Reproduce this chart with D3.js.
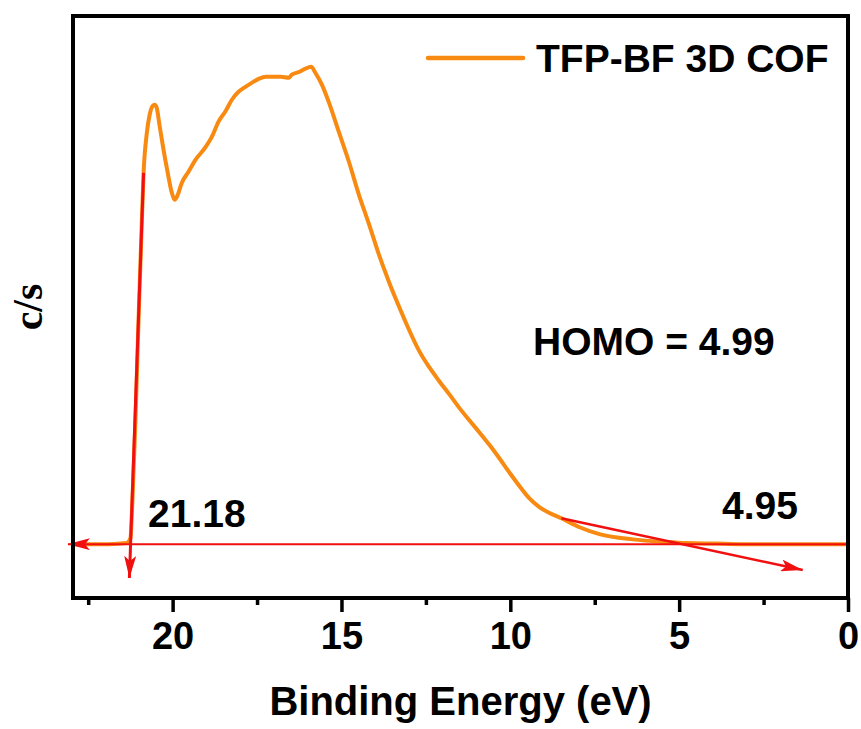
<!DOCTYPE html>
<html>
<head>
<meta charset="UTF-8">
<title>UPS spectrum</title>
<script src="https://cdn.jsdelivr.net/npm/d3@7"></script>
<style>
  body { margin: 0; padding: 0; background: #fff; }
  svg { display: block; }
  text { font-weight: bold; fill: #000; }
  .sans { font-family: "Liberation Sans", Arial, sans-serif; }
  .serif { font-family: "Liberation Serif", "DejaVu Serif", "Times New Roman", serif; }
</style>
</head>
<body>
<div id="chart"></div>
<script>
// binding energy (eV) and intensity (c/s, arbitrary units)
var energy = [22.95, 21.90, 21.36, 21.25, 21.19, 21.10, 21.01, 20.92, 20.86, 20.77, 20.68, 20.59, 20.53,
  20.47, 20.39, 20.27, 20.15, 20.03, 19.94, 19.85, 19.73, 19.53, 19.32, 19.02, 18.84, 18.64, 18.43, 18.25,
  18.04, 17.89, 17.69, 17.45, 17.24, 17.06, 16.80, 16.56, 16.47, 16.26, 16.08, 15.90, 15.76, 15.58, 15.37,
  15.07, 14.78, 14.48, 14.18, 13.89, 13.59, 13.29, 13.00, 12.70, 12.40, 12.11, 11.81, 11.51, 11.22, 10.92,
  10.62, 10.33, 10.03, 9.73, 9.44, 9.14, 8.84, 8.49, 7.95, 7.36, 6.38, 5.37, 4.78, 3.89, 3.20, 1.42, 0];
var counts = [0, 0, 2, 11, 83, 235, 424, 595, 703, 775, 813, 830, 832,
  826, 794, 747, 705, 667, 652, 661, 684, 705, 728, 752, 771, 800, 820, 841,
  857, 864, 872, 881, 885, 885, 885, 883, 889, 894, 900, 904, 891, 870, 836,
  779, 724, 661, 605, 548, 496, 449, 406, 366, 335, 309, 284, 258, 235, 212,
  188, 163, 136, 110, 87, 70, 59, 49, 32, 19, 9, 4, 2, 1, 0, 0, 0];

// tangent / baseline construction lines: [eV, c/s] start -> end (arrow at end)
var cutoffLine = [[20.86, 703], [21.28, -64]];
var edgeLine = [[8.49, 49], [1.34, -49]];
var baseLine = [[0, 0], [23.1, 0]];

var majorTicks = [0, 5, 10, 15, 20];
var minorTicks = [2.5, 7.5, 12.5, 17.5, 22.5];
var seriesName = "TFP-BF 3D COF";
var annotations = [
  {text: "HOMO = 4.99", x: 533, y: 355},
  {text: "21.18", x: 148, y: 527},
  {text: "4.95", x: 722, y: 519}
];

function draw() {
  var data = energy.map((e, i) => [e, counts[i]]);

  var svgWidth = 861, svgHeight = 729;
  // plot frame in pixels
  var pl = 73, pr = 848, pt = 16, pb = 598;
  var orange = "#f88a12", red = "#f01010";

  var svg = d3.select("#chart").append("svg")
    .attr("width", svgWidth).attr("height", svgHeight);

  var x = d3.scaleLinear().domain([22.95, 0]).range([pl, pr]);
  var y = d3.scaleLinear().domain([-102, 1000]).range([pb, pt]);

  var defs = svg.append("defs");
  defs.append("clipPath").attr("id", "plot")
    .append("rect").attr("x", pl).attr("y", pt)
    .attr("width", pr - pl).attr("height", pb - pt);
  defs.append("marker")
    .attr("id", "arrow")
    .attr("markerUnits", "userSpaceOnUse")
    .attr("viewBox", "0 0 22 12")
    .attr("refX", 22).attr("refY", 6)
    .attr("markerWidth", 22).attr("markerHeight", 12)
    .attr("orient", "auto")
    .append("path").attr("d", "M0,0 L22,6 L0,12 L5,6 Z").attr("fill", red);

  // spectrum
  var line = d3.line().x(d => x(d[0])).y(d => y(d[1])).curve(d3.curveMonotoneX);
  svg.append("path")
    .datum(data)
    .attr("clip-path", "url(#plot)")
    .attr("fill", "none")
    .attr("stroke", orange)
    .attr("stroke-width", 4)
    .attr("stroke-linejoin", "round")
    .attr("d", line);

  // construction lines
  var straight = d3.line().x(d => x(d[0])).y(d => y(d[1]));
  [[baseLine, 2], [edgeLine, 2.5], [cutoffLine, 3]].forEach(([pts, w]) => {
    svg.append("path")
      .datum(pts)
      .attr("fill", "none")
      .attr("stroke", red)
      .attr("stroke-width", w)
      .attr("marker-end", "url(#arrow)")
      .attr("d", straight);
  });

  // x axis ticks
  var axisG = svg.append("g").attr("transform", `translate(0,${pb})`);
  axisG.call(d3.axisBottom(x).tickValues(majorTicks).tickSize(14).tickPadding(10).tickFormat(d3.format("d")));
  axisG.append("g").call(d3.axisBottom(x).tickValues(minorTicks).tickSize(7).tickFormat(""));
  axisG.selectAll(".domain").remove();
  axisG.selectAll("line").attr("stroke", "#000").attr("stroke-width", 3.5);
  axisG.selectAll("text")
    .attr("class", "sans")
    .attr("font-size", 38)
    .attr("font-family", null)
    .attr("fill", "#000");

  // frame
  svg.append("rect")
    .attr("x", pl).attr("y", pt)
    .attr("width", pr - pl).attr("height", pb - pt)
    .attr("fill", "none").attr("stroke", "#000").attr("stroke-width", 4);

  // axis titles
  svg.append("text")
    .attr("class", "sans")
    .attr("x", (pl + pr) / 2).attr("y", 715)
    .attr("text-anchor", "middle")
    .attr("font-size", 40)
    .text("Binding Energy (eV)");
  svg.append("text")
    .attr("class", "serif")
    .attr("transform", `translate(42,${(pt + pb) / 2}) rotate(-90)`)
    .attr("text-anchor", "middle")
    .attr("font-size", 42)
    .text("c/s");

  // legend
  svg.append("line")
    .attr("x1", 428).attr("x2", 523).attr("y1", 58).attr("y2", 58)
    .attr("stroke", orange).attr("stroke-width", 4.5).attr("stroke-linecap", "round");
  svg.append("text")
    .attr("class", "sans")
    .attr("x", 536).attr("y", 72)
    .attr("font-size", 39)
    .text(seriesName);

  // annotations
  svg.selectAll(".note")
    .data(annotations)
    .enter().append("text")
    .attr("class", "note sans")
    .attr("x", d => d.x).attr("y", d => d.y)
    .attr("font-size", 39)
    .text(d => d.text);
}
draw();
</script>
</body>
</html>
